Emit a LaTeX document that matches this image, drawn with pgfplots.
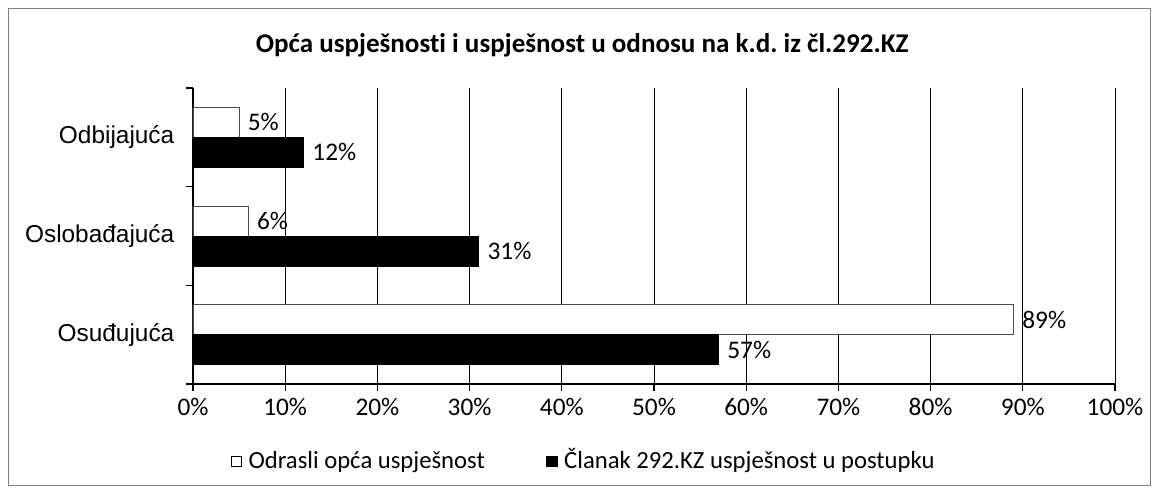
\documentclass[border=0pt]{standalone}
\usepackage{pgfplots}
\pgfplotsset{compat=1.18}
\usepackage{fontspec}
\setmainfont{Carlito}[Ligatures=NoCommon]
\newfontfamily\arial{Liberation Sans}

\begin{document}
\begin{tikzpicture}
\begin{axis}[
  name=ax,
  xbar,
  scale only axis,
  width=691.5pt, height=222pt,
  xmin=0, xmax=100,
  ymin=-0.5, ymax=2.5,
  clip=false,
  axis x line*=bottom,
  axis y line*=left,
  axis line style={black, line width=0.8pt, -},
  tick align=outside,
  major tick length=5pt,
  tick style={black, line width=0.8pt},
  xtick={0,10,...,100},
  xticklabel={\pgfmathprintnumber{\tick}\%},
  /pgf/number format/assume math mode=true,
  xticklabel style={font=\fontsize{19}{23}\selectfont, yshift=-2pt},
  ytick={-0.5,0.5,1.5,2.5},
  yticklabels={},
  extra y ticks={0,1,2},
  extra y tick labels={Osuđujuća,Oslobađajuća,Odbijajuća},
  extra y tick style={major tick length=0pt,
    yticklabel style={font=\arial\fontsize{18.3}{22}\selectfont, xshift=-10.5pt}},
  xmajorgrids,
  grid style={black, line width=0.6pt},
  nodes near coords={\pgfmathprintnumber{\pgfplotspointmeta}\%},
  point meta=x,
  every node near coord/.append style={font=\fontsize{19}{23}\selectfont, black, anchor=west, xshift=3pt},
  legend columns=2,
  legend style={draw=none, at={(0.424,-0.274)}, anchor=center,
    font=\fontsize{18.5}{22}\selectfont,
    nodes={text height=0.75em, text depth=0.25em},
    /tikz/every odd column/.append style={column sep=3pt},
    /tikz/every even column/.append style={column sep=44pt}},
  legend image code/.code={\draw[#1, draw=black, line width=0.5pt] (0pt,-1pt) rectangle (8pt,7pt);},
]
\addplot[bar width=22.5pt, bar shift=11.25pt, fill=white, draw=black!70, line width=0.5pt]
  coordinates {(89,0) (6,1) (5,2)};
\addlegendentry{Odrasli opća uspješnost}
\addplot[bar width=22.5pt, bar shift=-11.25pt, fill=black, draw=black, line width=0.5pt]
  coordinates {(57,0) (31,1) (12,2)};
\addlegendentry{Članak 292.KZ uspješnost u postupku}
\node[font=\bfseries\fontsize{20.3}{24}\selectfont] at (rel axis cs:0.422,1.145)
  {Opća uspješnosti i uspješnost u odnosu na k.d.\ iz čl.292.KZ};
\end{axis}
\draw[black!50, line width=0.5pt] ([shift={(-138.75pt,-75.75pt)}]ax.south west) rectangle ([shift={(717.75pt,282pt)}]ax.south west);
\path ([shift={(-144.75pt,-79.5pt)}]ax.south west) rectangle ([shift={(722.25pt,288pt)}]ax.south west);
\end{tikzpicture}
\end{document}
